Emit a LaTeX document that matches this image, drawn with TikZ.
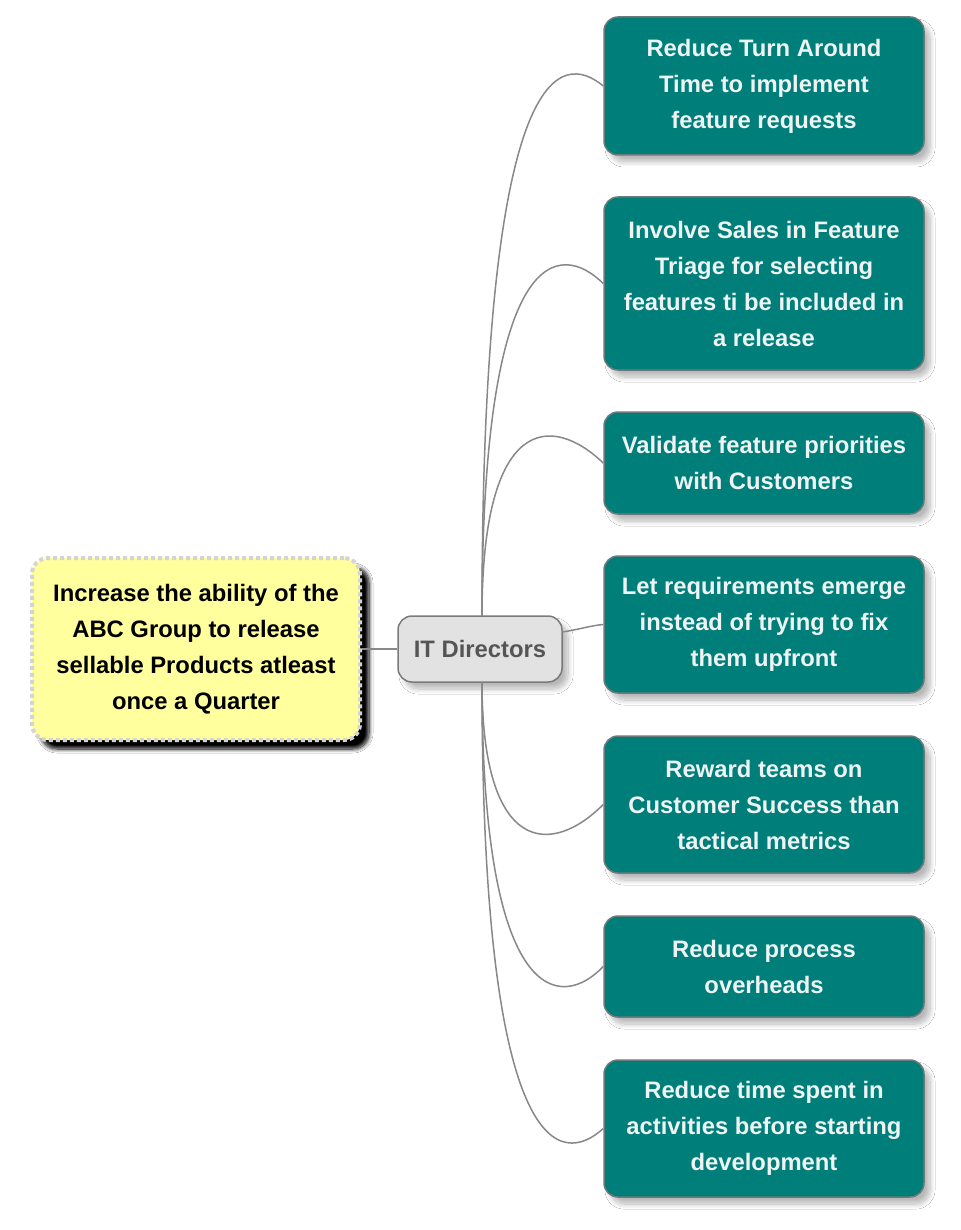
\documentclass[tikz,border=0pt]{standalone}
\usepackage{fontspec}
\setmainfont{Liberation Sans}
\usetikzlibrary{shadows.blur}
\definecolor{tealfill}{HTML}{007E79}
\definecolor{tealborder}{HTML}{6E7A7A}
\definecolor{tealtext}{HTML}{EEF4F4}
\definecolor{rootfill}{HTML}{FFFF9E}
\definecolor{rootborder}{HTML}{D4D4D4}
\definecolor{itfill}{HTML}{E2E2E2}
\definecolor{itborder}{HTML}{7A7A7A}
\definecolor{ittext}{HTML}{555555}
\definecolor{connc}{HTML}{888888}
\tikzset{
  txt/.style={font=\fontsize{23.8}{36}\selectfont\bfseries, align=center, inner sep=0pt},
  goalbox/.style={txt, draw=tealborder, line width=1.5pt, fill=tealfill, text=tealtext,
    rounded corners=14pt, minimum width=320pt,
    blur shadow={shadow xshift=6pt, shadow yshift=-7pt, shadow blur steps=12, shadow opacity=28, shadow blur radius=5pt}},
  rootbox/.style={txt, draw=rootborder, line width=4pt, dash pattern=on 4pt off 3pt, fill=rootfill, text=black,
    rounded corners=16pt, minimum width=328pt, minimum height=182pt,
    blur shadow={shadow xshift=9pt, shadow yshift=-9pt, shadow blur steps=8, shadow opacity=100, shadow blur radius=4pt}},
  itbox/.style={txt, draw=itborder, line width=1.5pt, fill=itfill, text=ittext,
    rounded corners=14pt, minimum width=164pt, minimum height=66pt,
    blur shadow={shadow xshift=6pt, shadow yshift=-7pt, shadow blur steps=12, shadow opacity=28, shadow blur radius=5pt}},
  conn/.style={draw=connc, line width=1.5pt},
}
\begin{document}
\begin{tikzpicture}[x=1pt, y=-1pt]
\fill[white] (0,0) rectangle (960,1230);
\useasboundingbox (0,0) rectangle (960,1230);

\node[rootbox] (root) at (196,649) {Increase the ability of the\\ABC Group to release\\sellable Products atleast\\once a Quarter};
\node[itbox] (it) at (480,649) {IT Directors};

\node[goalbox, minimum height=138pt] (b1) at (764,86) {Reduce Turn Around\\Time to implement\\feature requests};
\node[goalbox, minimum height=173pt] (b2) at (764,283.5) {Involve Sales in Feature\\Triage for selecting\\features ti be included in\\a release};
\node[goalbox, minimum height=102pt] (b3) at (764,463) {Validate feature priorities\\with Customers};
\node[goalbox, minimum height=137pt] (b4) at (764,624.5) {Let requirements emerge\\instead of trying to fix\\them upfront};
\node[goalbox, minimum height=137pt] (b5) at (764,804.5) {Reward teams on\\Customer Success than\\tactical metrics};
\node[goalbox, minimum height=101pt] (b6) at (764,966.5) {Reduce process\\overheads};
\node[goalbox, minimum height=137pt] (b7) at (764,1128.5) {Reduce time spent in\\activities before starting\\development};

\coordinate (itn) at (482,616);
\coordinate (its) at (482,682);
\coordinate (ite) at (562,632);

\draw[conn] (root.east) -- (it.west);
\draw[conn] (itn) .. controls (482,52) and (562,52) .. (b1.west);
\draw[conn] (itn) .. controls (482,241) and (560,241) .. (b2.west);
\draw[conn] (itn) .. controls (482,414) and (552,414) .. (b3.west);
\draw[conn] (ite) .. controls (582,629) and (588,626) .. (b4.west);
\draw[conn] (its) .. controls (482,856) and (552,856) .. (b5.west);
\draw[conn] (its) .. controls (482,1010) and (562,1010) .. (b6.west);
\draw[conn] (its) .. controls (482,1166) and (562,1166) .. (b7.west);
\end{tikzpicture}
\end{document}
